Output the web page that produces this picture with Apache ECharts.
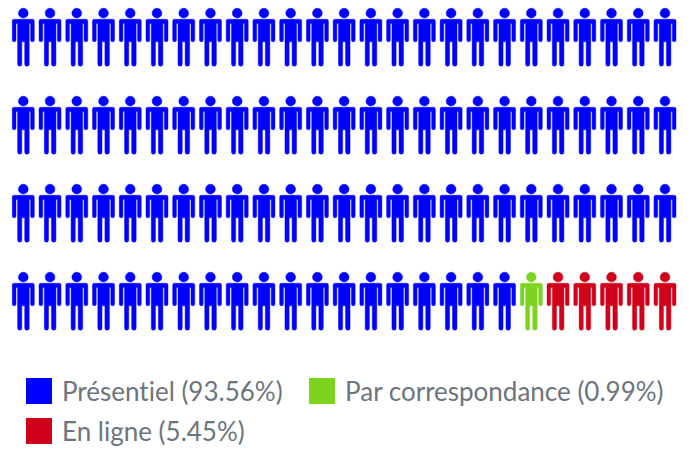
<!DOCTYPE html>
<html><head><meta charset="utf-8">
<style>html,body{margin:0;padding:0;background:#fff}#c{width:690px;height:450px}
#c text{font-variant-ligatures:none;font-kerning:normal}</style>
<script src="https://cdn.jsdelivr.net/npm/echarts@6/dist/echarts.min.js"></script>
</head><body><div id="c"></div>
<script>
const categories = ['Présentiel (93.56%)', 'Par correspondance (0.99%)', 'En ligne (5.45%)'];
const iconCounts = [94, 1, 5];
const colors = ['#0000ff', '#7ed321', '#d0021b'];
const columns = 25;
const rows = 4;
const person = 'path://M11 0A4.9 4.9 0 1 1 11 9.8A4.9 4.9 0 1 1 11 0Z' +
  'M1.6 11H20.4Q22 11 22 12.6V31.8Q22 33.4 20.15 33.4Q18.3 33.4 18.3 31.8V15.2H16.9V55.8Q16.9 57.7 14.6 57.7Q12.4 57.7 12.4 55.8V33.4H9.5V55.8Q9.5 57.7 7.4 57.7Q5.3 57.7 5.3 55.8V15.2H3.7V31.8Q3.7 33.4 1.85 33.4Q0 33.4 0 31.8V12.6Q0 11 1.6 11Z';
let idx = 0;
const series = categories.map((name, s) => {
  const data = [];
  for (let i = 0; i < iconCounts[s]; i++, idx++) data.push([idx % columns, Math.floor(idx / columns)]);
  return {
    name, type: 'scatter', data, symbol: person, symbolSize: [22, 58],
    itemStyle: { color: colors[s], opacity: 1, borderColor: colors[s], borderWidth: 0.4 },
    silent: true, animation: false
  };
});
const legendBase = {
  left: 26, padding: 0, itemWidth: 26, itemHeight: 26, itemGap: 26, orient: 'horizontal',
  icon: 'rect', selectedMode: false,
  itemStyle: { borderWidth: 0 },
  textStyle: { fontFamily: 'Lato', fontSize: 26, color: '#6c757d', padding: [4, 0, 0, 5] }
};
const chart = echarts.init(document.getElementById('c'), null, { renderer: 'svg' });
chart.setOption({
  animation: false,
  color: colors,
  grid: { left: 23.3, right: 25, top: 37.2, height: 264 },
  xAxis: { type: 'value', min: 0, max: columns - 1, show: false },
  yAxis: { type: 'value', min: 0, max: rows - 1, inverse: true, show: false },
  legend: [
    Object.assign({}, legendBase, { top: 378, data: categories.slice(0, 2) }),
    Object.assign({}, legendBase, { top: 418, data: categories.slice(2) })
  ],
  series
});
</script></body></html>
